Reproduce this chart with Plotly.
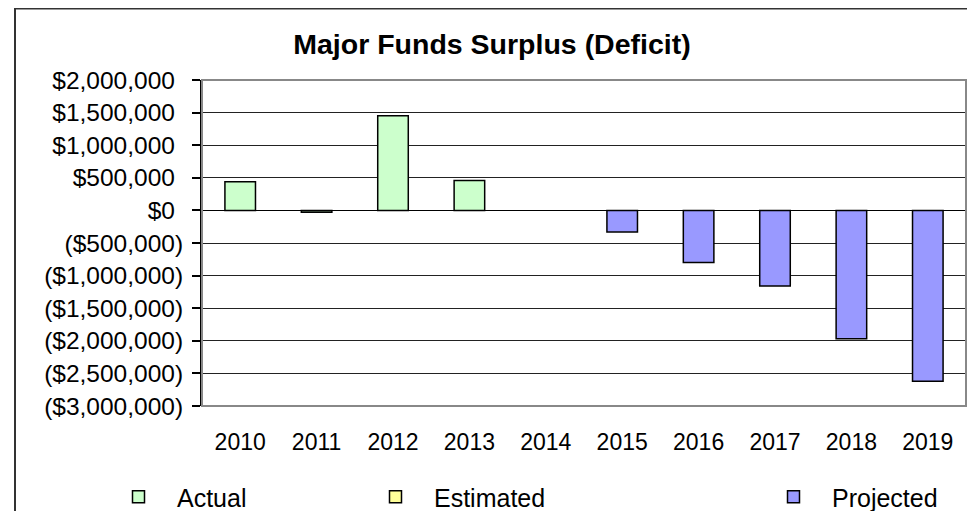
import plotly.graph_objects as go

years = ["2010", "2011", "2012", "2013", "2014", "2015", "2016", "2017", "2018", "2019"]
actual = [440000, -30000, 1450000, 460000, None, None, None, None, None, None]
estimated = [None, None, None, None, None, None, None, None, None, None]
projected = [None, None, None, None, None, -330000, -800000, -1160000, -1970000, -2620000]

tick_values = [2000000, 1500000, 1000000, 500000, 0, -500000, -1000000, -1500000, -2000000, -2500000, -3000000]
tick_labels = ["$2,000,000", "$1,500,000", "$1,000,000", "$500,000", "$0",
               "($500,000)", "($1,000,000)", "($1,500,000)", "($2,000,000)", "($2,500,000)", "($3,000,000)"]

HIDE = "<span style='color:rgba(0,0,0,0)'>)</span>"
tick_text = [t if t.startswith("(") else t + HIDE for t in tick_labels]

FONT = "Liberation Sans, Arial, sans-serif"
OFF = 8  # browser default body margin
W, H = 975 - 2 * OFF, 519 - 2 * OFF
L, R, T, B = 202 - OFF, 966 - OFF, 80 - OFF, 406 - OFF
pw, ph = R - L, B - T

def px_x(p):
    return (p - OFF - L) / pw

def px_y(p):
    return (B - (p - OFF)) / ph

fig = go.Figure()
fig.add_trace(go.Bar(x=years, y=actual, name="Actual", marker=dict(color="#CCFFCC", line=dict(color="#000000", width=1.5)),
                     width=0.4, legend="legend"))
fig.add_trace(go.Bar(x=years, y=estimated, name="Estimated", marker=dict(color="#FFFF99", line=dict(color="#000000", width=1.5)),
                     width=0.4, legend="legend2"))
fig.add_trace(go.Bar(x=years, y=projected, name="Projected", marker=dict(color="#9999FF", line=dict(color="#000000", width=1.5)),
                     width=0.4, legend="legend3"))

leg_common = dict(orientation="h", yanchor="middle", xanchor="left", y=px_y(497),
                  font=dict(family=FONT, size=25, color="#000"), bgcolor="rgba(0,0,0,0)",
                  borderwidth=0, itemwidth=67)

fig.update_layout(
    width=W, height=H,
    margin=dict(l=L, r=W - R, t=T, b=H - B, pad=0, autoexpand=False),
    paper_bgcolor="white", plot_bgcolor="white",
    barmode="overlay",
    title=dict(text="<b>Major Funds Surplus (Deficit)</b>", x=(492 - OFF) / W, xanchor="center",
               y=1 - (44 - OFF) / H, yanchor="middle", font=dict(family=FONT, size=28.5, color="#000")),
    font=dict(family=FONT, color="#000"),
    showlegend=True,
    legend=dict(x=px_x(100), **leg_common),
    legend2=dict(x=px_x(357), **leg_common),
    legend3=dict(x=px_x(755), **leg_common),
    xaxis=dict(type="category", showgrid=False, showline=False, ticks="",
               tickfont=dict(family=FONT, size=23, color="#000"), ticklabelstandoff=20,
               range=[-0.5, 9.5], automargin=False),
    yaxis=dict(range=[-3000000, 2000000], tickvals=tick_values, ticktext=tick_text,
               showgrid=True, gridcolor="#222", gridwidth=1,
               zeroline=True, zerolinecolor="#000", zerolinewidth=1,
               showline=True, linecolor="#000", linewidth=2, ticks="outside", ticklen=8,
               tickcolor="#000", tickwidth=1.5, ticklabelstandoff=4, automargin=False,
               tickfont=dict(family=FONT, size=24.5, color="#000")),
    shapes=[
        dict(type="rect", xref="paper", yref="paper", x0=0, x1=1, y0=0, y1=1,
             line=dict(color="#888", width=2), fillcolor="rgba(0,0,0,0)", layer="above"),
        dict(type="rect", xref="paper", yref="paper", x0=px_x(15), x1=px_x(985),
             y0=px_y(545), y1=px_y(8.5), line=dict(color="#333", width=2), fillcolor="rgba(0,0,0,0)"),
    ],
)

fig.write_html("out.html")
